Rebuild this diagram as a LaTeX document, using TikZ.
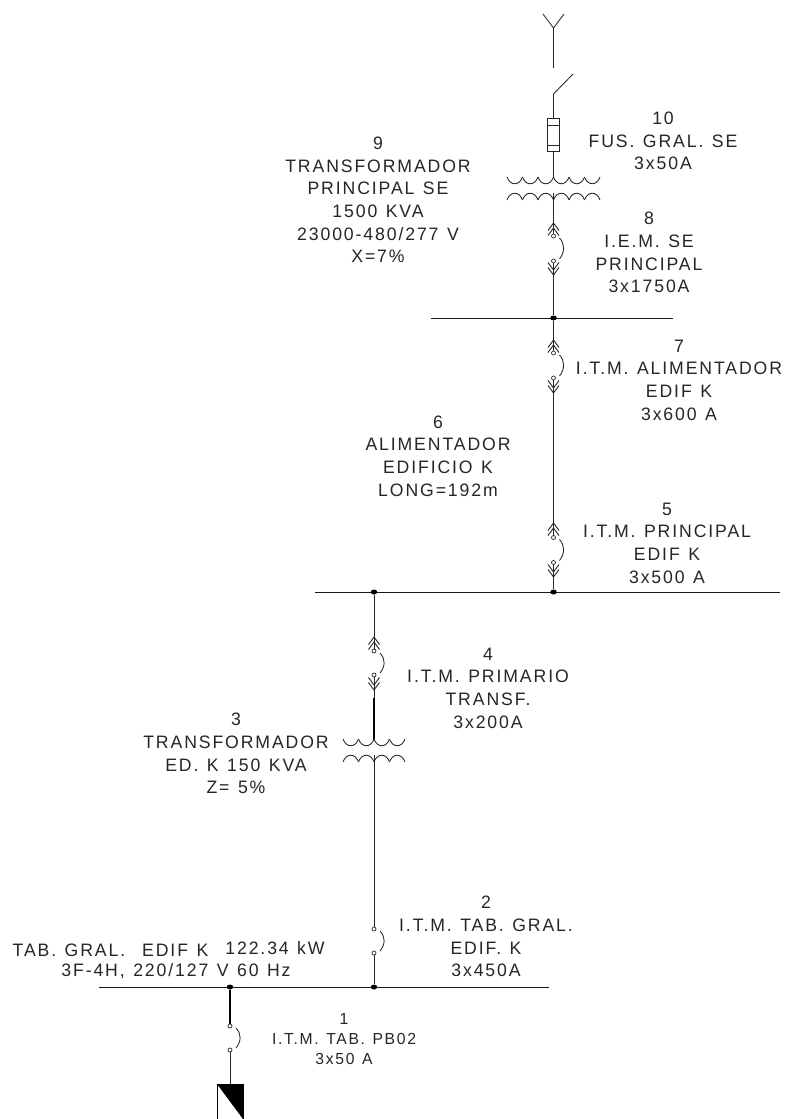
\documentclass[tikz,border=0pt]{standalone}
\usepackage{fontspec}
\setmainfont[FakeStretch=0.98,LetterSpace=10.5,WordSpace=1.25]{Liberation Sans}
\newcommand{\humpsdown}[4]{% x0, y, width, n : scallops hanging down
  \foreach \i in {1,...,#4}{
    \pgfmathsetmacro{\xa}{#1+(\i-1)*#3}
    \draw[wire] (\xa,#2) .. controls (\xa+0.2*#3,#2+9) and (\xa+0.8*#3,#2+9) .. (\xa+#3,#2);
  }}
\newcommand{\humpsup}[4]{%
  \foreach \i in {1,...,#4}{
    \pgfmathsetmacro{\xa}{#1+(\i-1)*#3}
    \draw[wire] (\xa,#2) .. controls (\xa+0.2*#3,#2-9) and (\xa+0.8*#3,#2-9) .. (\xa+#3,#2);
  }}
\newcommand{\chevup}[2]{% x, tip y
  \draw[wire,line width=0.9pt] (#1-5.5,#2+7.5) -- (#1,#2) -- (#1+5.5,#2+7.5);
  \draw[wire,line width=0.9pt] (#1-5.5,#2+12.5) -- (#1,#2+5) -- (#1+5.5,#2+12.5);}
\newcommand{\chevdown}[2]{%
  \draw[wire,line width=0.9pt] (#1-5.5,#2-7.5) -- (#1,#2) -- (#1+5.5,#2-7.5);
  \draw[wire,line width=0.9pt] (#1-5.5,#2-12.5) -- (#1,#2-5) -- (#1+5.5,#2-12.5);}
\newcommand{\arcbrk}[3]{% x, y top contact, y bottom contact
  \draw[wire] (#1+6,#2+2) .. controls (#1+11.5,#2+8) and (#1+11.5,#3-9) .. (#1+6,#3-2);}
\tikzset{
  wire/.style={line width=0.85pt,black!85},
  heavy/.style={line width=1.6pt,black},
  bus/.style={line width=0.95pt,black!90},
  contact/.style={circle,draw=black!85,fill=white,line width=0.7pt,inner sep=0pt,minimum size=4pt},
  junction/.style={ellipse,fill=black,inner sep=0pt,minimum width=6.5pt,minimum height=5pt},
  lbl/.style={align=center,inner sep=0pt,text=black!85,font=\fontsize{18}{22.7}\selectfont},
  lblsm/.style={align=center,inner sep=0pt,text=black!85,font=\fontsize{16}{20}\selectfont}
}
\usetikzlibrary{shapes.geometric}
\begin{document}
\begin{tikzpicture}[x=1pt,y=-1pt]
\useasboundingbox (0,0) rectangle (788,1119);
\fill[white] (0,0) rectangle (788,1119);

% Antenna, switch, fuse
\coordinate (antL) at (543,14);
\coordinate (antR) at (564,14);
\coordinate (antC) at (553.5,28);
\coordinate (antE) at (553.5,68);
\coordinate (swA) at (553.5,94);
\coordinate (swB) at (573,74);
\draw[wire] (antL) -- (antC) -- (antR);
\draw[wire] (antC) -- (antE);
\draw[wire] (swB) -- (swA);
\node[draw=black!85,line width=0.9pt,minimum width=12pt,minimum height=33pt,inner sep=0pt] (fuse) at (553.5,134.5) {};
\draw[wire] (swA) -- (fuse.north);
\draw[wire] (548,125) -- (560,125);
\draw[wire] (548,145) -- (560,145);

% Main transformer
\coordinate (t1a) at (553.5,178);
\coordinate (t1b) at (553.5,193);
\humpsdown{507}{177}{15.5}{6}
\humpsup{507}{200}{15.5}{6}
\draw[wire] (fuse.south) -- (t1a);

% Busbars
\coordinate (b1L) at (431,318);
\coordinate (b1R) at (673,318);
\coordinate (b2L) at (315,592);
\coordinate (b2R) at (780,592);
\coordinate (b3L) at (99,987);
\coordinate (b3R) at (549,987);
\draw[bus] (b1L) -- (b1R);
\draw[bus] (b2L) -- (b2R);
\draw[bus] (b3L) -- (b3R);
\node[junction] (j1) at (553.5,318) {};
\node[junction] (j2) at (553.5,592) {};
\node[junction] (j3) at (374,592) {};
\node[junction] (j4) at (374,987) {};
\node[junction] (j5) at (230,987) {};

% Breaker 8
\node[contact] (c8a) at (553.5,236) {};
\node[contact] (c8b) at (553.5,261) {};
\draw[wire] (t1b) -- (c8a);
\draw[wire] (c8b) -- (j1);
\chevup{553.5}{223}\chevdown{553.5}{275}\arcbrk{553.5}{236}{261}

% Breaker 7
\node[contact] (c7a) at (553.5,353) {};
\node[contact] (c7b) at (553.5,378) {};
\draw[wire] (j1) -- (c7a);
\chevup{553.5}{340}\chevdown{553.5}{393}\arcbrk{553.5}{353}{378}

% Breaker 5
\node[contact] (c5a) at (553.5,537.5) {};
\node[contact] (c5b) at (553.5,562.5) {};
\draw[wire] (c7b) -- (c5a);
\draw[wire] (c5b) -- (j2);
\chevup{553.5}{523}\chevdown{553.5}{577}\arcbrk{553.5}{537.5}{562.5}

% Breaker 4
\node[contact] (c4a) at (374,651) {};
\node[contact] (c4b) at (374,675) {};
\coordinate (t2a) at (374,740);
\coordinate (t2b) at (374,755);
\draw[wire] (j3) -- (c4a);
\draw[wire] (c4b) -- (374,698);
\draw[heavy] (374,698) -- (t2a);
\chevup{374}{637}\chevdown{374}{690}\arcbrk{374}{651}{675}

% Transformer K
\humpsdown{343}{739}{15.5}{4}
\humpsup{343}{762}{15.5}{4}

% Breaker 2
\node[contact] (c2a) at (374,929) {};
\node[contact] (c2b) at (374,953) {};
\draw[wire] (t2b) -- (c2a);
\draw[wire] (c2b) -- (j4);
\arcbrk{374}{929}{953}

% Breaker 1 and panel
\node[contact] (c1a) at (230,1026) {};
\node[contact] (c1b) at (230,1050) {};
\coordinate (panelT) at (230,1084);
\draw[heavy] (j5) -- (c1a);
\draw[wire] (c1b) -- (panelT);
\arcbrk{230}{1026}{1050}
\fill[black] (217,1084) -- (243,1084) -- (243,1119) -- cycle;
\draw[line width=1pt,black] (217,1119) -- (217,1084) -- (243,1084) -- (243,1119);

% Labels
\node[lbl] (l10) at (663,141) {10\\FUS. GRAL. SE\\3x50A};
\node[lbl] (l9) at (378,200) {9\\TRANSFORMADOR\\PRINCIPAL SE\\1500 KVA\\23000-480/277 V\\X=7\%};
\node[lbl] (l8) at (649,252.5) {8\\I.E.M. SE\\PRINCIPAL\\3x1750A};
\node[lbl] (l7) at (679,380) {7\\I.T.M. ALIMENTADOR\\EDIF K\\3x600 A};
\node[lbl] (l6) at (438,456) {6\\ALIMENTADOR\\EDIFICIO K\\LONG=192m};
\node[lbl] (l5) at (667,543) {5\\I.T.M. PRINCIPAL\\EDIF K\\3x500 A};
\node[lbl] (l4) at (488,688) {4\\I.T.M. PRIMARIO\\TRANSF.\\3x200A};
\node[lbl] (l3) at (236,753.5) {3\\TRANSFORMADOR\\ED. K 150 KVA\\Z= 5\%};
\node[lbl] (l2) at (486,936.5) {2\\I.T.M. TAB. GRAL.\\EDIF. K\\3x450A};
\node[lblsm] (l1) at (344,1039) {1\\I.T.M. TAB. PB02\\3x50 A};
\node[lbl] (lt) at (110.5,950) {TAB. GRAL.\ \ EDIF K};
\node[lbl] (lv) at (176,971) {3F-4H, 220/127 V 60 Hz};
\node[lbl] (lk) at (275,948) {122.34 kW};
\end{tikzpicture}
\end{document}
